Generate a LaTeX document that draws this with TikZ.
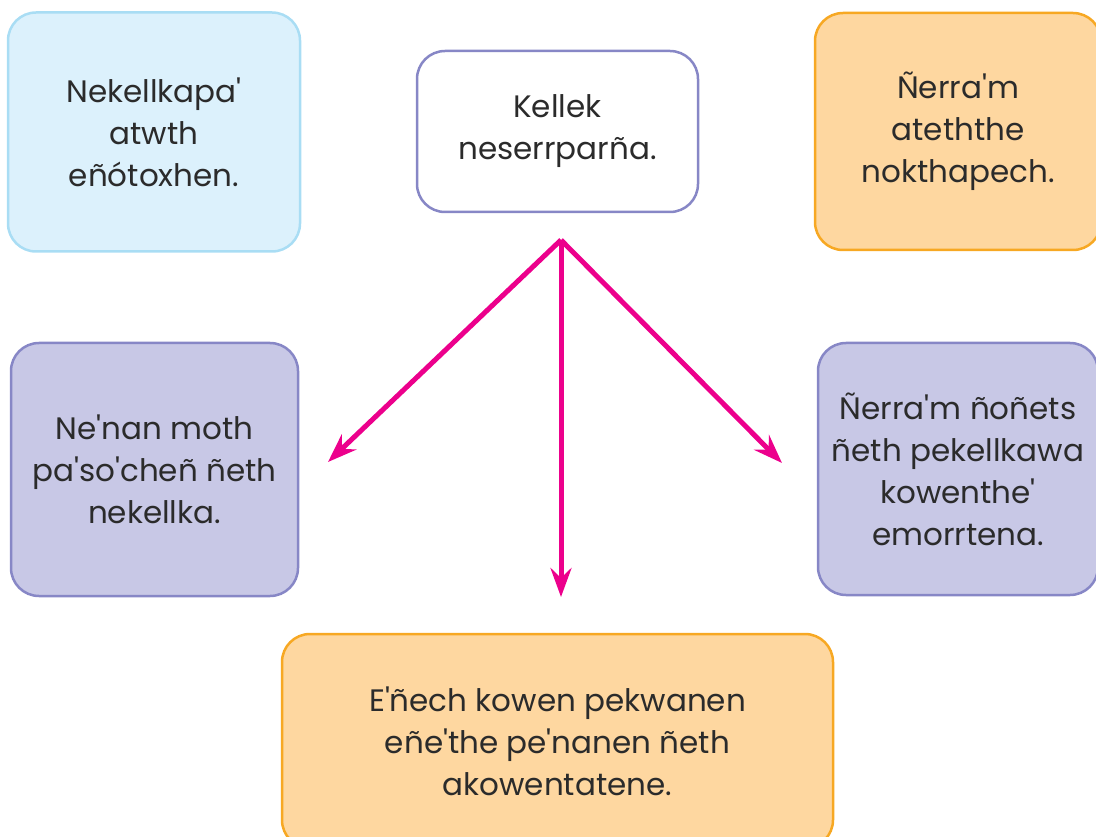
\documentclass[tikz,border=0pt]{standalone}
\usepackage{fontspec}
\setmainfont{Poppins}[Ligatures=TeXOff]
\usetikzlibrary{arrows.meta}

\definecolor{skyfill}{HTML}{DCF1FC}
\definecolor{skyline}{HTML}{A9DDF4}
\definecolor{plumline}{HTML}{8787C6}
\definecolor{plumfill}{HTML}{C8C8E6}
\definecolor{sandfill}{HTML}{FED7A0}
\definecolor{sandline}{HTML}{F7A823}
\definecolor{hotpink}{HTML}{EC008C}
\definecolor{inkgray}{HTML}{2B2B2B}

\begin{document}
\begin{tikzpicture}[x=1pt,y=-1pt,
  card/.style={draw,line width=2.5pt,rounded corners=28pt,inner sep=0pt,
    align=center,text=inkgray,font=\fontsize{31}{42}\selectfont},
  flow/.style={line width=5pt,draw=hotpink,
    -{Stealth[length=29pt,width=21pt,inset=10pt]}}]
  \useasboundingbox (0,0) rectangle (1096,837);
  \clip (0,0) rectangle (1096,837);

  \node[card,fill=skyfill,draw=skyline,minimum width=292pt,minimum height=239pt]
    (aim) at (154,132) {Nekellkapa'\\atwth\\eñótoxhen.};
  \node[card,fill=white,draw=plumline,minimum width=281pt,minimum height=161pt]
    (topic) at (557.5,131.5) {Kellek\\neserrparña.};
  \node[card,fill=sandfill,draw=sandline,minimum width=286pt,minimum height=237pt]
    (hint) at (958,131.5) {Ñerra'm\\ateththe\\nokthapech.};
  \node[card,fill=plumfill,draw=plumline,minimum width=287pt,minimum height=253pt]
    (left) at (154.5,469.5) {Ne'nan moth\\pa'so'cheñ ñeth\\nekellka.};
  \node[card,fill=plumfill,draw=plumline,minimum width=280pt,minimum height=252pt]
    (right) at (958,469) {Ñerra'm ñoñets\\ñeth pekellkawa\\kowenthe'\\emorrtena.};
  \node[card,fill=sandfill,draw=sandline,minimum width=551pt,minimum height=214pt]
    (bottom) at (557.5,741) {E'ñech kowen pekwanen\\eñe'the pe'nanen ñeth\\akowentatene.};

  \coordinate (hub) at (561,240);
  \coordinate (toleft) at (328,462);
  \coordinate (todown) at (561,597);
  \coordinate (toright) at (782,463);

  \draw[flow] (hub) -- (toleft);
  \draw[flow] (hub) -- (todown);
  \draw[flow] (hub) -- (toright);
\end{tikzpicture}
\end{document}
